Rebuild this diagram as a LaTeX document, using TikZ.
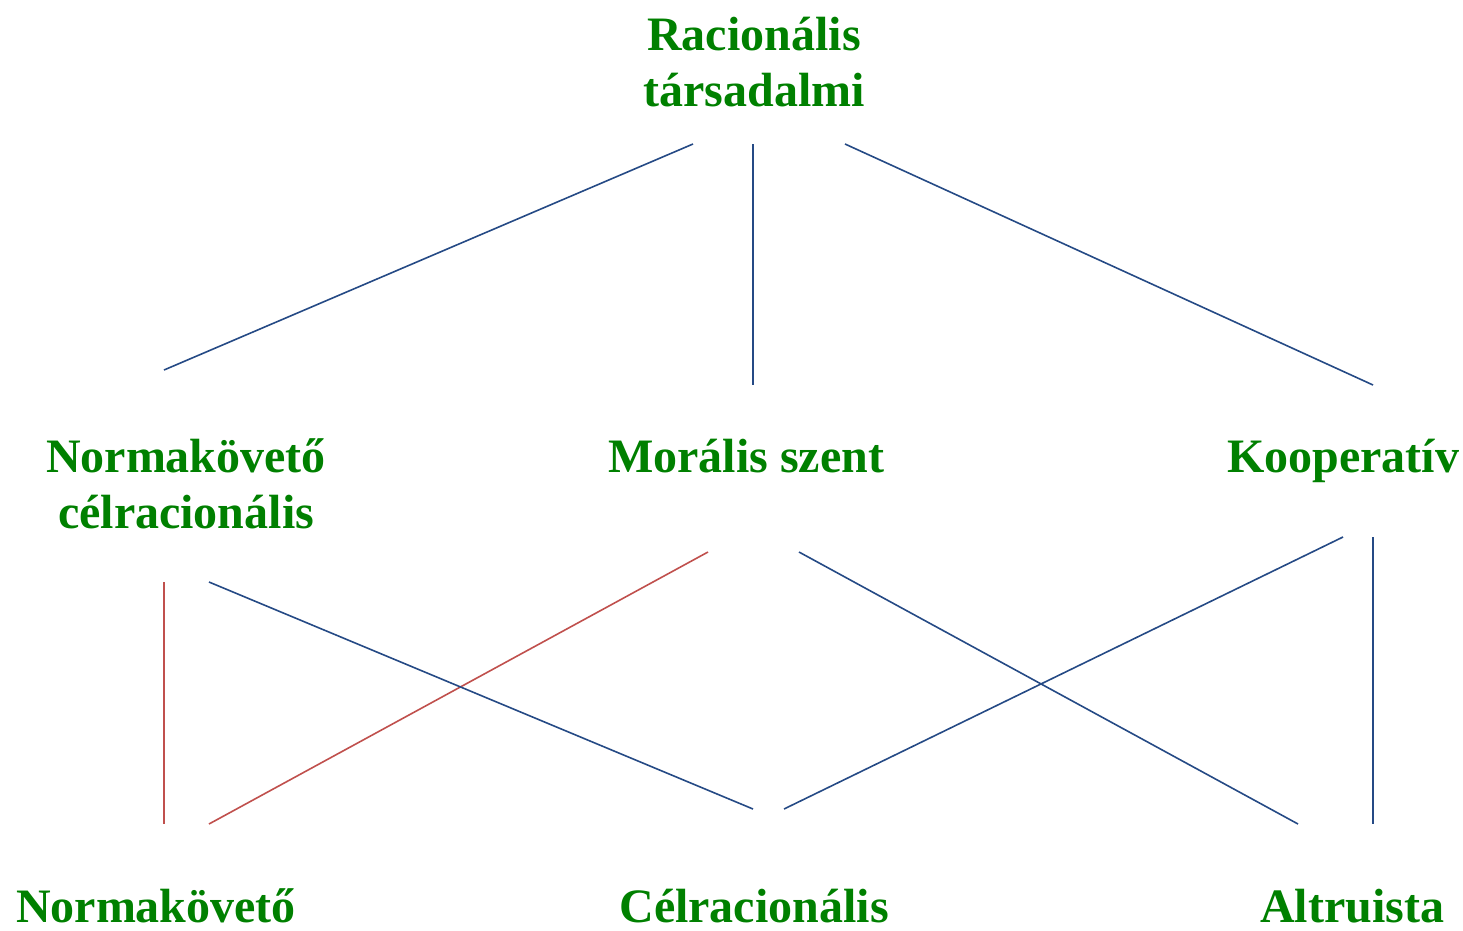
\documentclass[tikz,border=0pt]{standalone}
\usepackage{fontspec}
\setmainfont{Liberation Serif}
\definecolor{labelgreen}{HTML}{008000}
\definecolor{linkblue}{HTML}{254A85}
\definecolor{linkred}{HTML}{C0504D}
\begin{document}
\begin{tikzpicture}[x=1pt,y=-1pt,
  label/.style={anchor=base, inner sep=0pt, text=labelgreen,
    font=\fontsize{48}{56}\selectfont\bfseries, align=center},
  bluelink/.style={draw=linkblue, line width=1.6pt},
  redlink/.style={draw=linkred, line width=1.6pt}]
\useasboundingbox (0,0) rectangle (1463,930);

% level labels (base anchor sits on the last line's baseline)
\node[label] (rt)  at (754,106) {Racionális\\társadalmi};
\node[label] (ncr) at (186,528) {Normakövető\\célracionális};
\node[label] (ms)  at (746,472) {Morális szent};
\node[label] (ko)  at (1343,472) {Kooperatív};
\node[label] (nk)  at (156,922) {Normakövető};
\node[label] (cr)  at (754,922) {Célracionális};
\node[label] (al)  at (1352,922) {Altruista};

% connector end points
\coordinate (rtL) at (693,144);
\coordinate (rtM) at (753,144);
\coordinate (rtR) at (845,144);
\coordinate (ncrT) at (164,370);
\coordinate (msT) at (753,385);
\coordinate (koT) at (1373,385);
\coordinate (ncrB1) at (164,582);
\coordinate (ncrB2) at (209,582);
\coordinate (msB1) at (708,552);
\coordinate (msB2) at (799,552);
\coordinate (koB1) at (1343,537);
\coordinate (koB2) at (1373,537);
\coordinate (nkT1) at (164,824);
\coordinate (nkT2) at (209,824);
\coordinate (crT1) at (753,809);
\coordinate (crT2) at (784,809);
\coordinate (alT1) at (1298,824);
\coordinate (alT2) at (1373,824);

% upper level
\draw[bluelink] (rtL) -- (ncrT);
\draw[bluelink] (rtM) -- (msT);
\draw[bluelink] (rtR) -- (koT);

% lower level
\draw[redlink] (ncrB1) -- (nkT1);
\draw[redlink] (msB1) -- (nkT2);
\draw[bluelink] (ncrB2) -- (crT1);
\draw[bluelink] (msB2) -- (alT1);
\draw[bluelink] (koB1) -- (crT2);
\draw[bluelink] (koB2) -- (alT2);
\end{tikzpicture}
\end{document}
